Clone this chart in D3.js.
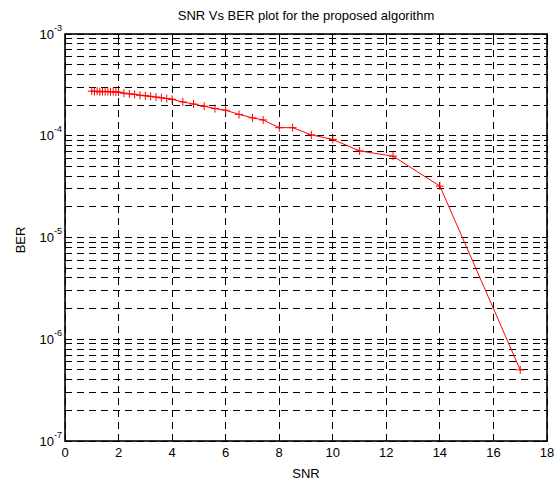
<!DOCTYPE html>
<html>
<head>
    <meta charset="utf-8">
    <title>SNR Vs BER</title>
    <style type="text/css">
    body { margin: 0; background: #fff; }
    text { font-family: "Liberation Sans", Arial, sans-serif; }
    </style>
</head>
<body>
  <script src="https://cdn.jsdelivr.net/npm/d3@7/dist/d3.min.js"></script>
  <script>

    // data
    var snr = [1.0, 1.1, 1.2, 1.3, 1.4, 1.5, 1.6, 1.7, 1.8, 1.9, 2.0,
               2.2, 2.4, 2.6, 2.8, 3.0, 3.2, 3.4, 3.6, 3.8, 4.0,
               4.4, 4.8, 5.2, 5.6, 6.0, 6.5, 7.0, 7.4, 8.0, 8.5,
               9.2, 10.0, 11.0, 12.25, 14.0, 17.0];
    var ber = [2.75e-4, 2.72e-4, 2.74e-4, 2.7e-4, 2.73e-4, 2.71e-4, 2.72e-4, 2.7e-4, 2.71e-4, 2.69e-4, 2.68e-4,
               2.62e-4, 2.58e-4, 2.55e-4, 2.5e-4, 2.47e-4, 2.44e-4, 2.4e-4, 2.36e-4, 2.32e-4, 2.28e-4,
               2.15e-4, 2.05e-4, 1.95e-4, 1.85e-4, 1.78e-4, 1.62e-4, 1.5e-4, 1.43e-4, 1.2e-4, 1.2e-4,
               1.02e-4, 9.2e-5, 7.1e-5, 6.3e-5, 3.2e-5, 5.0e-7];

    var xTicks = [0, 2, 4, 6, 8, 10, 12, 14, 16, 18];
    var yExps  = [-3, -4, -5, -6, -7];

    var margin = {top:34, right:13, bottom:41, left:65},
        width  = 560 - margin.left - margin.right,
        height = 482 - margin.top - margin.bottom;

    var svg = d3.select("body")
      .append("svg")
      .attr("width", 560)
      .attr("height", 482);

    var chart = svg.append("g")
      .attr("transform", "translate(" + margin.left + "," + margin.top + ")");

    var xScale = d3.scaleLinear().domain([0, 18]).range([0, width]);
    var yScale = d3.scaleLog().domain([1e-7, 1e-3]).range([height, 0]);

    // minor + major y values for log grid
    var yGrid = [];
    yExps.slice().reverse().forEach(function(e){
      for (var m = 1; m <= 9; m++) {
        var v = m * Math.pow(10, e);
        if (v <= 1e-3) yGrid.push({v: v, major: m === 1});
      }
    });
    yGrid.push({v: 1e-3, major: true});

    var grid = chart.append("g")
      .attr("stroke", "#000")
      .attr("stroke-width", 1)
      .attr("stroke-dasharray", "7,5")
      .attr("shape-rendering", "crispEdges");

    grid.selectAll("line.h")
      .data(yGrid)
      .enter()
      .append("line")
      .attr("x1", 0)
      .attr("x2", width)
      .attr("y1", function(d){ return yScale(d.v); })
      .attr("y2", function(d){ return yScale(d.v); });

    grid.selectAll("line.v")
      .data(xTicks)
      .enter()
      .append("line")
      .attr("x1", function(d){ return xScale(d); })
      .attr("x2", function(d){ return xScale(d); })
      .attr("y1", height)
      .attr("y2", 0);

    // tick marks, inside the box on all sides
    var ticks = chart.append("g")
      .attr("stroke", "#000")
      .attr("shape-rendering", "crispEdges");

    xTicks.forEach(function(t){
      ticks.append("line").attr("x1", xScale(t)).attr("x2", xScale(t)).attr("y1", height).attr("y2", height - 5);
      ticks.append("line").attr("x1", xScale(t)).attr("x2", xScale(t)).attr("y1", 0).attr("y2", 5);
    });
    yGrid.forEach(function(d){
      var len = d.major ? 5 : 3;
      ticks.append("line").attr("x1", 0).attr("x2", len).attr("y1", yScale(d.v)).attr("y2", yScale(d.v));
      ticks.append("line").attr("x1", width).attr("x2", width - len).attr("y1", yScale(d.v)).attr("y2", yScale(d.v));
    });

    // box
    chart.append("rect")
      .attr("x", 0)
      .attr("y", 0)
      .attr("width", width)
      .attr("height", height)
      .attr("fill", "none")
      .attr("stroke", "#000")
      .attr("stroke-width", 1.6);

    // data line
    var line = d3.line()
      .x(function(d, i){ return xScale(snr[i]); })
      .y(function(d, i){ return yScale(ber[i]); });

    chart.append("path")
      .datum(ber)
      .attr("d", line)
      .attr("fill", "none")
      .attr("stroke", "#ff0000")
      .attr("stroke-width", 1);

    // "+" markers
    var marks = chart.append("g")
      .attr("stroke", "#ff0000")
      .attr("stroke-width", 1)
      .selectAll("g")
      .data(ber)
      .enter()
      .append("g")
      .attr("transform", function(d, i){ return "translate(" + xScale(snr[i]) + "," + yScale(d) + ")"; });

    marks.append("line").attr("x1", -4).attr("x2", 4).attr("y1", 0).attr("y2", 0);
    marks.append("line").attr("x1", 0).attr("x2", 0).attr("y1", -4).attr("y2", 4);

    // x tick labels
    chart.append("g")
      .selectAll("text")
      .data(xTicks)
      .enter()
      .append("text")
      .attr("x", function(d){ return xScale(d); })
      .attr("y", height + 16)
      .attr("text-anchor", "middle")
      .style("font-size", "13px")
      .text(function(d){ return d; });

    // y tick labels 10^e
    var yl = chart.append("g")
      .selectAll("text")
      .data(yExps)
      .enter()
      .append("text")
      .attr("x", -3)
      .attr("y", function(d){ return yScale(Math.pow(10, d)) + 4.5; })
      .attr("text-anchor", "end")
      .style("font-size", "13px");

    yl.append("tspan").text("10");
    yl.append("tspan")
      .attr("dy", -8)
      .style("font-size", "9px")
      .text(function(d){ return "-" + Math.abs(d); });

    // title & axis labels
    svg.append("text")
      .attr("x", margin.left + width / 2)
      .attr("y", 20)
      .attr("text-anchor", "middle")
      .style("font-size", "13px")
      .text("SNR Vs BER plot for the proposed algorithm");

    svg.append("text")
      .attr("x", margin.left + width / 2)
      .attr("y", 478)
      .attr("text-anchor", "middle")
      .style("font-size", "13px")
      .text("SNR");

    svg.append("text")
      .attr("transform", "translate(25,240) rotate(-90)")
      .attr("text-anchor", "middle")
      .style("font-size", "13px")
      .text("BER");

  </script>
</body>
</html>
